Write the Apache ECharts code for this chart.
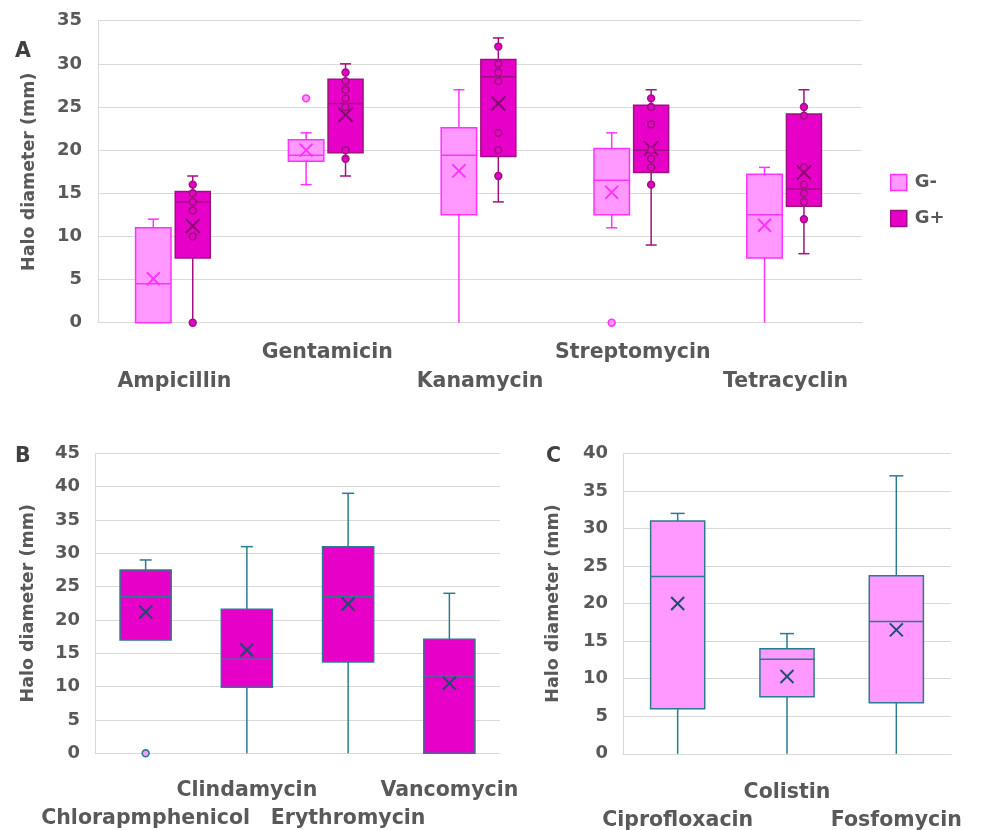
<!DOCTYPE html>
<html><head><meta charset="utf-8">
<script src="https://cdn.jsdelivr.net/npm/echarts@6/dist/echarts.min.js"></script>
<style>html,body{margin:0;padding:0;background:#fff}#c{width:990px;height:830px}</style>
</head><body><div id="c"></div>
<script>
// ---------- DATA ----------
// Box stats per category: [low whisker, Q1, median, Q3, high whisker, mean]
const catsA = ['Ampicillin', 'Gentamicin', 'Kanamycin', 'Streptomycin', 'Tetracyclin'];
const gNegA = [
  [0, 0, 4.5, 11, 12, 5.1],
  [16, 18.7, 19.4, 21.2, 22, 20.0],
  [0, 12.5, 19.4, 22.6, 27, 17.6],
  [11, 12.5, 16.5, 20.2, 22, 15.1],
  [0, 7.5, 12.5, 17.2, 18, 11.3]
];
const gPosA = [
  [0, 7.5, 14, 15.2, 17, 11.2],
  [17, 19.7, 25.4, 28.2, 30, 24.1],
  [14, 19.25, 28.5, 30.5, 33, 25.4],
  [9, 17.4, 20, 25.2, 27, 20.2],
  [8, 13.5, 15.5, 24.2, 27, 17.4]
];
const gNegPtsA = [[], [26], [], [0], []];
const gPosPtsA = [
  [16, 15, 14, 13, 10, 0],
  [29, 28, 27, 26, 25, 20, 19],
  [32, 30, 29, 28, 22, 20, 17],
  [26, 25, 23, 20, 19, 18, 16],
  [25, 24, 18, 16, 15, 14, 12]
];
const catsB = ['Chlorapmphenicol', 'Clindamycin', 'Erythromycin', 'Vancomycin'];
const statsB = [
  [17, 17, 23.5, 27.5, 29, 21.2],
  [0, 9.9, 14.1, 21.6, 31, 15.5],
  [0, 13.7, 23.5, 31, 39, 22.4],
  [0, 0, 11.6, 17.1, 24, 10.5]
];
const ptsB = [[0], [], [], []];
const catsC = ['Ciprofloxacin', 'Colistin', 'Fosfomycin'];
const statsC = [
  [0, 6, 23.6, 31, 32, 20.0],
  [0, 7.6, 12.6, 14, 16, 10.3],
  [0, 6.8, 17.6, 23.7, 37, 16.5]
];
const yTicksA = {min: 0, max: 35, interval: 5};
const yTicksB = {min: 0, max: 45, interval: 5};
const yTicksC = {min: 0, max: 40, interval: 5};

// ---------- STYLE ----------
const TXT = '#595959';
const GRID = '#d9d9d9';
const FONT = '"DejaVu Sans", sans-serif';
const stNeg = {fill: '#ff99ff', line: '#ff33ff', mean: '#ff33ff', offset: -0.138, width: 0.232, cap: 11, xs: 6.5};
const stPos = {fill: '#e600c8', line: '#a0107f', mean: '#8a0a70', offset: 0.12, width: 0.229, cap: 11, xs: 7};
const stB = {fill: '#e600c8', line: '#2b7a90', mean: '#1f4e6e', offset: 0, width: 0.505, cap: 12, xs: 6.5};
const stC = {fill: '#ff99ff', line: '#2b7a90', mean: '#1f4e6e', offset: 0, width: 0.495, cap: 14, xs: 6.5};

function boxRender(st) {
  return function (params, api) {
    const x = api.value(0);
    const band = api.size([1, 0])[0];
    const cx = api.coord([x, 0])[0] + band * st.offset;
    const yv = i => api.coord([x, api.value(i)])[1];
    const yl = yv(1), yq1 = yv(2), ym = yv(3), yq3 = yv(4), yh = yv(5), ymean = yv(6);
    const w = band * st.width;
    const ls = {stroke: st.line, lineWidth: 1.5};
    const ch = [];
    if (yh < yq3 - 0.5) {
      ch.push({type: 'line', shape: {x1: cx, y1: yq3, x2: cx, y2: yh}, style: ls});
      ch.push({type: 'line', shape: {x1: cx - st.cap / 2, y1: yh, x2: cx + st.cap / 2, y2: yh}, style: ls});
    }
    if (yl > yq1 + 0.5) {
      ch.push({type: 'line', shape: {x1: cx, y1: yq1, x2: cx, y2: yl}, style: ls});
      if (api.value(1) > 0) ch.push({type: 'line', shape: {x1: cx - st.cap / 2, y1: yl, x2: cx + st.cap / 2, y2: yl}, style: ls});
    }
    ch.push({type: 'rect', shape: {x: cx - w / 2, y: yq3, width: w, height: yq1 - yq3},
      style: {fill: st.fill, stroke: st.line, lineWidth: 1.5}});
    ch.push({type: 'line', shape: {x1: cx - w / 2, y1: ym, x2: cx + w / 2, y2: ym}, style: ls});
    const ms = {stroke: st.mean, lineWidth: 2};
    ch.push({type: 'line', shape: {x1: cx - st.xs, y1: ymean - st.xs, x2: cx + st.xs, y2: ymean + st.xs}, style: ms});
    ch.push({type: 'line', shape: {x1: cx - st.xs, y1: ymean + st.xs, x2: cx + st.xs, y2: ymean - st.xs}, style: ms});
    return {type: 'group', children: ch};
  };
}
function ptRender(st) {
  return function (params, api) {
    const x = api.value(0);
    const band = api.size([1, 0])[0];
    const p = api.coord([x, api.value(1)]);
    return {type: 'circle', shape: {cx: p[0] + band * st.offset, cy: p[1], r: 3.4},
      style: {fill: st.fill, stroke: st.line, lineWidth: 1.6}};
  };
}
const boxData = arr => arr.map((d, i) => [i].concat(d));
const ptData = arr => { const o = []; arr.forEach((vs, i) => vs.forEach(v => o.push([i, v]))); return o; };

function xAxisCfg(gi, cats, margin, lh) {
  return {
    type: 'category', gridIndex: gi, data: cats, boundaryGap: true,
    axisTick: {show: false},
    axisLine: {lineStyle: {color: GRID, width: 1}},
    axisLabel: {interval: 0, margin: margin, lineHeight: lh, color: TXT, fontFamily: FONT, fontWeight: 'bold', fontSize: 20.5,
      formatter: (v, i) => (i % 2 === 0 ? '\n' + v : v)}
  };
}
function yAxisCfg(gi, t, gap, margin) {
  return {
    type: 'value', gridIndex: gi, min: t.min, max: t.max, interval: t.interval,
    name: 'Halo diameter (mm)', nameLocation: 'middle', nameRotate: 90, nameGap: gap,
    nameTextStyle: {color: TXT, fontFamily: FONT, fontWeight: 'bold', fontSize: 17.5},
    axisLine: {show: true, lineStyle: {color: GRID, width: 1}},
    axisTick: {show: false},
    splitLine: {lineStyle: {color: GRID, width: 1}},
    axisLabel: {color: TXT, fontFamily: FONT, fontWeight: 'bold', fontSize: 18, margin: margin}
  };
}

const chart = echarts.init(document.getElementById('c'));
chart.setOption({
  animation: false,
  backgroundColor: '#fff',
  grid: [
    {left: 98, top: 20.7, width: 764, height: 302, containLabel: false, outerBoundsMode: 'none'},
    {left: 95, top: 453.3, width: 405, height: 300, containLabel: false, outerBoundsMode: 'none'},
    {left: 623, top: 453.3, width: 328, height: 300.5, containLabel: false, outerBoundsMode: 'none'}
  ],
  xAxis: [xAxisCfg(0, catsA, 15, 29.5), xAxisCfg(1, catsB, 23, 28), xAxisCfg(2, catsC, 25, 28)],
  yAxis: [yAxisCfg(0, yTicksA, 60, 16), yAxisCfg(1, yTicksB, 58, 15), yAxisCfg(2, yTicksC, 61, 15)],
  legend: {
    orient: 'vertical', left: 890, top: 173.5, padding: 0, itemWidth: 16, itemHeight: 16, itemGap: 18,
    icon: 'rect',
    textStyle: {color: TXT, fontFamily: FONT, fontWeight: 'bold', fontSize: 18, lineHeight: 16, padding: [0, 0, 0, 3]},
    data: [
      {name: 'G-', itemStyle: {color: stNeg.fill, borderColor: stNeg.line, borderWidth: 1.5}},
      {name: 'G+', itemStyle: {color: stPos.fill, borderColor: stPos.line, borderWidth: 1.5}}
    ]
  },
  graphic: [
    {type: 'text', left: 15, top: 41, style: {text: 'A', font: 'bold 20.5px ' + FONT, fill: '#404040'}},
    {type: 'text', left: 15, top: 446, style: {text: 'B', font: 'bold 20.5px ' + FONT, fill: '#404040'}},
    {type: 'text', left: 546, top: 446, style: {text: 'C', font: 'bold 20.5px ' + FONT, fill: '#404040'}}
  ],
  series: [
    {name: 'G-', type: 'custom', xAxisIndex: 0, yAxisIndex: 0, renderItem: boxRender(stNeg),
      itemStyle: {color: stNeg.fill}, encode: {x: 0, y: [1, 2, 3, 4, 5, 6]}, data: boxData(gNegA)},
    {name: 'G+', type: 'custom', xAxisIndex: 0, yAxisIndex: 0, renderItem: boxRender(stPos),
      itemStyle: {color: stPos.fill}, encode: {x: 0, y: [1, 2, 3, 4, 5, 6]}, data: boxData(gPosA)},
    {name: 'G- points', type: 'custom', xAxisIndex: 0, yAxisIndex: 0, renderItem: ptRender(stNeg),
      encode: {x: 0, y: 1}, data: ptData(gNegPtsA), z: 3},
    {name: 'G+ points', type: 'custom', xAxisIndex: 0, yAxisIndex: 0, renderItem: ptRender(stPos),
      encode: {x: 0, y: 1}, data: ptData(gPosPtsA), z: 3},
    {name: 'B', type: 'custom', xAxisIndex: 1, yAxisIndex: 1, renderItem: boxRender(stB),
      encode: {x: 0, y: [1, 2, 3, 4, 5, 6]}, data: boxData(statsB)},
    {name: 'B points', type: 'custom', xAxisIndex: 1, yAxisIndex: 1, renderItem: ptRender({fill: '#ff99ff', line: stB.line, offset: 0}),
      encode: {x: 0, y: 1}, data: ptData(ptsB), z: 3},
    {name: 'C', type: 'custom', xAxisIndex: 2, yAxisIndex: 2, renderItem: boxRender(stC),
      encode: {x: 0, y: [1, 2, 3, 4, 5, 6]}, data: boxData(statsC)}
  ]
});
</script>
</body></html>
